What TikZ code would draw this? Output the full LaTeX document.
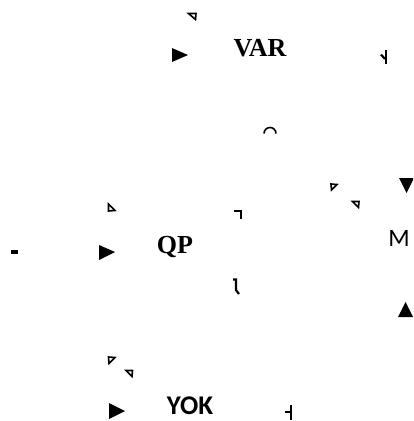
\documentclass[tikz,border=0pt]{standalone}
\usepackage{fontspec}
\setmainfont{Liberation Serif}
\newfontfamily\labelsans{Carlito}
\begin{document}
\begin{tikzpicture}[x=1pt,y=-1pt,
  serifbold/.style={font=\fontsize{26}{28}\selectfont\bfseries, inner sep=0pt, anchor=center},
  sansbold/.style={font=\labelsans\fontsize{27}{29}\selectfont\bfseries, inner sep=0pt, anchor=center},
  sanslabel/.style={font=\labelsans\fontsize{25}{27}\selectfont, inner sep=0pt, anchor=center},
  headtip/.style={fill=black, draw=none},
  opentip/.style={draw=black, line width=1.6pt, fill=white, line join=miter},
  stub/.style={draw=black, line width=2.2pt}]
\useasboundingbox (0,0) rectangle (413,421);
\clip (0,0) rectangle (413,421);

% labels
\node[serifbold] (var) at (260,48) {VAR};
\node[serifbold] (qp) at (175,247) {QP};
\node[sansbold] (yok) at (190,406) {YOK};
\node[sanslabel] (m) at (399,238) {M};

% filled arrow tips
\fill[headtip] (172,48) -- (188,55) -- (172,62) -- cycle;
\fill[headtip] (99,245) -- (115,252) -- (99,260) -- cycle;
\fill[headtip] (109,403) -- (125,411) -- (109,419) -- cycle;
\fill[headtip] (399,178) -- (414,178) -- (406.5,193) -- cycle;
\fill[headtip] (398,317) -- (413,317) -- (405.5,302) -- cycle;

% open arrow tips
\draw[opentip] (188.5,13.5) -- (196,13.5) -- (195.5,19.5) -- cycle;
\draw[opentip] (331,184) -- (337,184.5) -- (331.5,190) -- cycle;
\draw[opentip] (352.5,201.5) -- (359,201.5) -- (358.5,207.5) -- cycle;
\draw[opentip] (108.5,204) -- (108.5,211) -- (115,210.5) -- cycle;
\draw[opentip] (108.5,357) -- (115,357.5) -- (109,363.5) -- cycle;
\draw[opentip] (126,370.5) -- (132.5,370.5) -- (132,376.5) -- cycle;

% line stubs
\draw[stub] (233.5,211) -- (241,211) -- (241,218.5);
\draw[stub] (233,279.5) -- (236,279.5) -- (236,290) -- (239,294);
\draw[stub] (386,50) -- (386,63.5);
\draw[stub] (381,54.5) -- (385,59);
\draw[stub] (291,405) -- (291,420);
\draw[stub] (285,412) -- (291,412);
\draw[line width=1.6pt] (264,133.5) arc[start angle=180, end angle=360, radius=6];
\fill (11,249.5) rectangle (17.5,253.5);
\end{tikzpicture}
\end{document}
